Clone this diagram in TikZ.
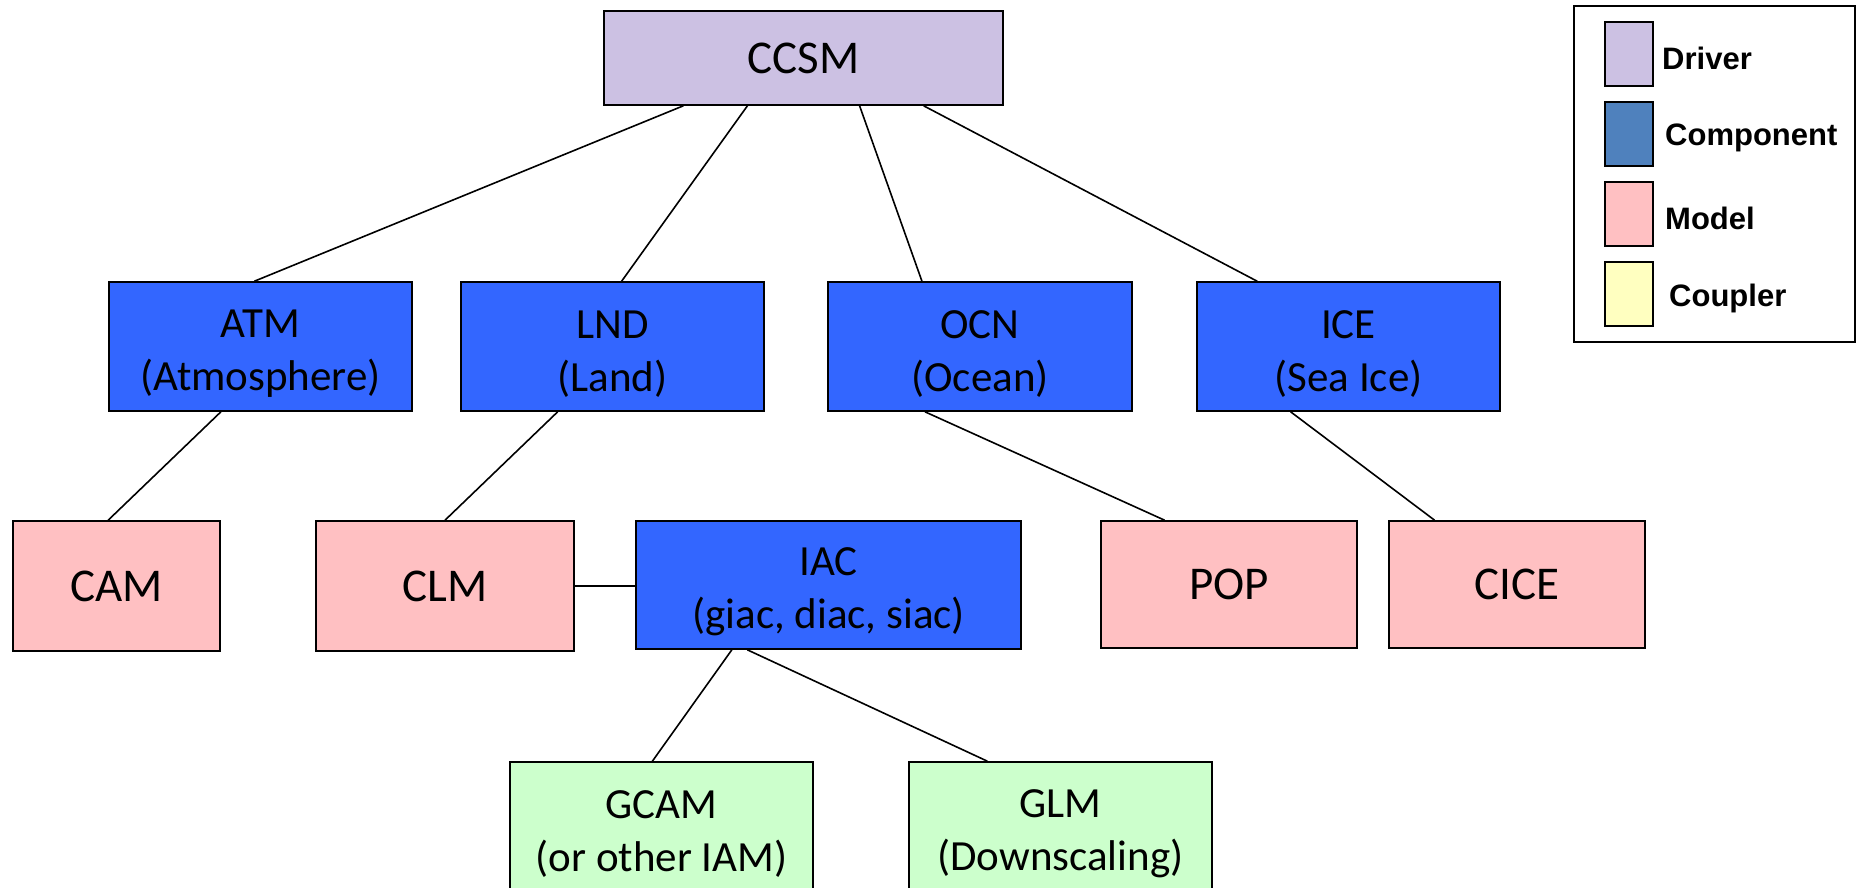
\documentclass[tikz,border=0pt]{standalone}
\usepackage{fontspec}
\setmainfont{Carlito}
\newfontfamily\legfont{Liberation Sans}
\usetikzlibrary{calc}
\definecolor{drivercol}{HTML}{CCC1E3}
\definecolor{compcol}{HTML}{3366FF}
\definecolor{legcomp}{HTML}{4F81BD}
\definecolor{modelcol}{HTML}{FFC0C2}
\definecolor{couplercol}{HTML}{FFFFC0}
\definecolor{greencol}{HTML}{CCFFCC}
\newcommand{\firstline}{\rule{0pt}{42pt}}
\tikzset{
  box/.style={draw=black, line width=1.6pt, inner sep=0pt, align=center,
    font=\fontsize{43}{53}\selectfont},
  single/.style={font=\fontsize{47}{55}\selectfont},
  driver/.style={box, fill=drivercol},
  comp/.style={box, fill=compcol},
  model/.style={box, fill=modelcol},
  green/.style={box, fill=greencol},
  swatch/.style={draw=black, line width=1.3pt, inner sep=0pt, minimum width=48pt, minimum height=64pt},
  leglabel/.style={font=\legfont\bfseries\fontsize{31}{36}\selectfont, anchor=west, inner sep=0pt},
  link/.style={line width=1.6pt, draw=black}
}
\begin{document}
\begin{tikzpicture}[x=1pt,y=-1pt]
\useasboundingbox (0,0) rectangle (1858,887);
\clip (0,0) rectangle (1858,887);
% nodes
\node[driver, single, minimum width=399pt, minimum height=94pt] (ccsm) at (803.5,58) {CCSM};
\node[comp, minimum width=303pt, minimum height=129pt] (atm) at (260.5,346.5) {\firstline ATM\\(Atmosphere)};
\node[comp, minimum width=303pt, minimum height=129pt] (lnd) at (612.5,346.5) {\firstline LND\\(Land)};
\node[comp, minimum width=304pt, minimum height=129pt] (ocn) at (980,346.5) {\firstline OCN\\(Ocean)};
\node[comp, minimum width=303pt, minimum height=129pt] (ice) at (1348.5,346.5) {\firstline ICE\\(Sea Ice)};
\node[model, single, minimum width=207pt, minimum height=130pt] (cam) at (116.5,586) {CAM};
\node[model, single, minimum width=258pt, minimum height=130pt] (clm) at (445,586) {CLM};
\node[comp, minimum width=385pt, minimum height=128pt] (iac) at (828.5,585) {\firstline IAC\\(giac, diac, siac)};
\node[model, single, minimum width=256pt, minimum height=127pt] (pop) at (1229,584.5) {POP};
\node[model, single, minimum width=256pt, minimum height=127pt] (cice) at (1517,584.5) {CICE};
\node[green, minimum width=303pt, minimum height=129pt] (gcam) at (661.5,826.5) {\firstline GCAM\\(or other IAM)};
\node[green, minimum width=303pt, minimum height=129pt] (glm) at (1060.5,826.5) {\firstline GLM\\(Downscaling)};
% connectors
\draw[link] ($(ccsm.south west)!0.20!(ccsm.south east)$) -- ($(atm.north west)!0.48!(atm.north east)$);
\draw[link] ($(ccsm.south west)!0.36!(ccsm.south east)$) -- ($(lnd.north west)!0.53!(lnd.north east)$);
\draw[link] ($(ccsm.south west)!0.64!(ccsm.south east)$) -- ($(ocn.north west)!0.31!(ocn.north east)$);
\draw[link] ($(ccsm.south west)!0.80!(ccsm.south east)$) -- ($(ice.north west)!0.20!(ice.north east)$);
\draw[link] ($(atm.south west)!0.37!(atm.south east)$) -- ($(cam.north west)!0.46!(cam.north east)$);
\draw[link] ($(lnd.south west)!0.32!(lnd.south east)$) -- ($(clm.north west)!0.50!(clm.north east)$);
\draw[link] ($(ocn.south west)!0.32!(ocn.south east)$) -- ($(pop.north west)!0.25!(pop.north east)$);
\draw[link] ($(ice.south west)!0.31!(ice.south east)$) -- ($(cice.north west)!0.18!(cice.north east)$);
\draw[link] (clm.east) -- (clm.east -| iac.west);
\draw[link] ($(iac.south west)!0.25!(iac.south east)$) -- ($(gcam.north west)!0.47!(gcam.north east)$);
\draw[link] ($(iac.south west)!0.29!(iac.south east)$) -- ($(glm.north west)!0.26!(glm.north east)$);
% legend
\node[draw=black, line width=1.5pt, inner sep=0pt, minimum width=281pt, minimum height=336pt] (legend) at (1714.5,174) {};
\node[swatch, fill=drivercol] (sdriver) at (1629,54) {};
\node[swatch, fill=legcomp] (scomp) at (1629,134) {};
\node[swatch, fill=modelcol] (smodel) at (1629,214) {};
\node[swatch, fill=couplercol] (scoupler) at (1629,294) {};
\node[leglabel] (ldriver) at (1662,58) {Driver};
\node[leglabel] (lcomp) at (1665,138) {Component};
\node[leglabel] (lmodel) at (1665,218) {Model};
\node[leglabel] (lcoupler) at (1669,298) {Coupler};
\end{tikzpicture}
\end{document}
